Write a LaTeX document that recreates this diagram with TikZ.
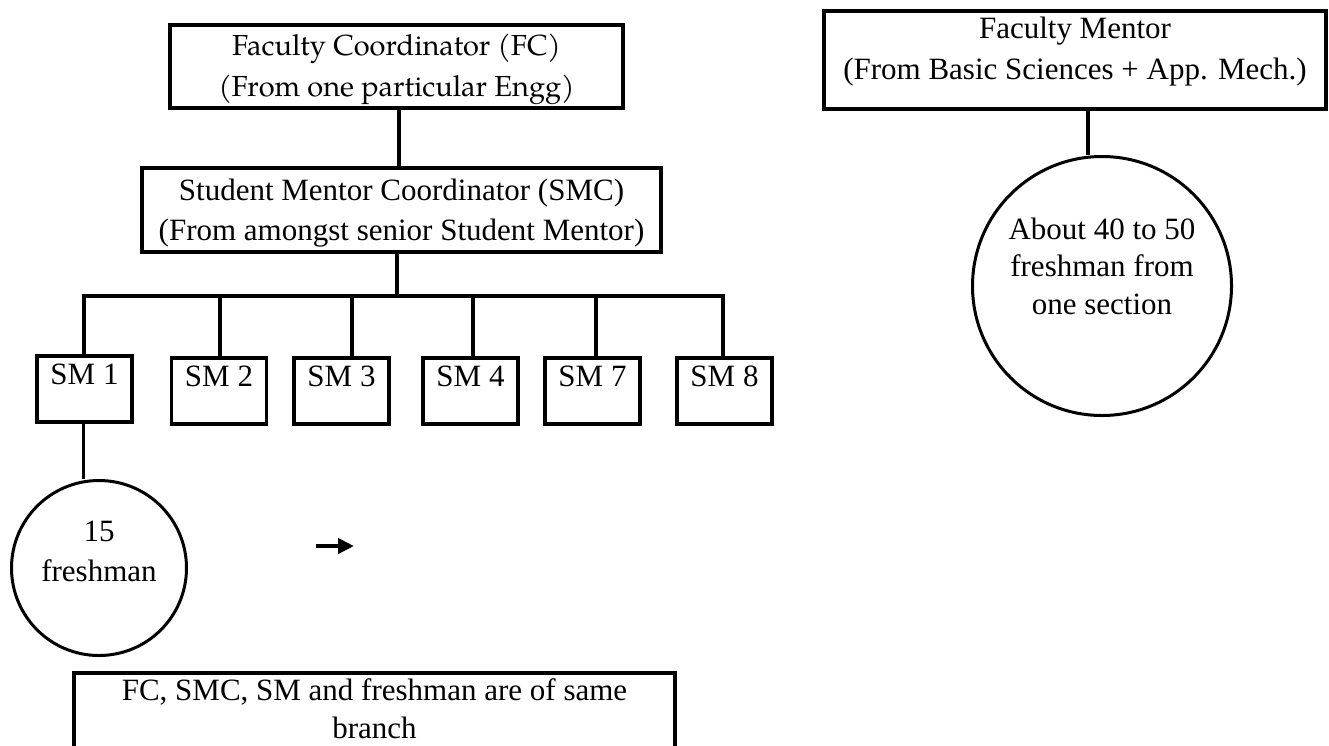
\documentclass[tikz,border=0pt]{standalone}
\usepackage{fontspec}
\setmainfont{Liberation Serif}
\newfontfamily\palfont{TeX Gyre Pagella}
\usepackage{tikz}
\usetikzlibrary{positioning, arrows.meta}
\tikzset{
  orgbox/.style={draw, line width=3.8pt, align=center, inner sep=0pt, anchor=north, font=\fontsize{31}{40}\selectfont},
  smbox/.style={draw, line width=3.8pt, inner sep=0pt, anchor=north, minimum width=95pt, text height=29pt, text depth=37pt, font=\fontsize{31}{40}\selectfont},
  crowd/.style={draw, circle, line width=3pt, align=center, inner sep=0pt, font=\fontsize{31}{40}\selectfont},
  link/.style={line width=3.8pt}
}

\begin{document}
\begin{tikzpicture}[x=1pt, y=-1pt]
      \useasboundingbox (0,0) rectangle (1329,745);

      \node[orgbox, minimum width=453pt, text height=72pt, text depth=11pt, font=\palfont\fontsize{29}{41}\selectfont] (fc) at (396.5,23) {Faculty Coordinator (FC)\\(From one particular Engg)};
      \node[orgbox, minimum width=519pt, text height=73pt, text depth=11pt] (smc) at (401.5,166) {Student Mentor Coordinator (SMC)\\(From amongst senior Student Mentor)};

      \node[smbox] (sm1) at (84.5,354) {SM 1};
      \node[smbox] (sm2) at (219,356) {SM 2};
      \node[smbox] (sm3) at (341.5,356) {SM 3};
      \node[smbox] (sm4) at (470.5,356) {SM 4};
      \node[smbox] (sm7) at (592.5,356) {SM 7};
      \node[smbox] (sm8) at (724.5,356) {SM 8};

      \node[crowd, minimum size=175pt, text height=62pt, text depth=36pt] (fr1) at (99,568) {15\\freshman};

      \node[orgbox, minimum width=601pt, text height=66pt, text depth=100pt, font=\fontsize{31}{38}\selectfont] (note) at (374.5,671) {FC, SMC, SM and freshman are of same\\branch};

      \node[orgbox, minimum width=502pt, text height=69pt, text depth=29pt, font=\fontsize{31}{41}\selectfont] (fm) at (1075,9) {Faculty Mentor\\(From Basic Sciences + App. Mech.)};
      \node[crowd, minimum size=259pt, text height=97pt, text depth=41pt, font=\fontsize{31}{37.5}\selectfont] (fr2) at (1102,286) {About 40 to 50\\freshman from\\one section};

      \coordinate (busL) at (84,296);
      \coordinate (busR) at (723,296);
      \coordinate (arrS) at (316,546);
      \coordinate (arrE) at (354,546);

      \draw[link] ([xshift=2.5pt]fc.south) -- ([xshift=2.5pt]fc.south |- smc.north);
      \draw[link] ([xshift=-4.5pt]smc.south) -- ([xshift=-4.5pt]smc.south |- busL);
      \draw[link, line cap=rect] (busL) -- (busR);
      \foreach \n/\dx in {1/-0.5, 2/1, 3/10.5, 4/2.5, 7/3.5, 8/-1.5}
        \draw[link] ([xshift=\dx pt]sm\n.north) -- ([xshift=\dx pt]sm\n.north |- busL);
      \draw[link] ([xshift=-1pt]sm1.south) -- ([xshift=-1pt]sm1.south |- fr1.north);
      \draw[link] ([xshift=13pt]fm.south) -- ([xshift=13pt]fm.south |- fr2.north);
      \draw[line width=4.5pt, -{Triangle[length=16pt, width=15pt]}] (arrS) -- (arrE);
    \end{tikzpicture}
\end{document}
